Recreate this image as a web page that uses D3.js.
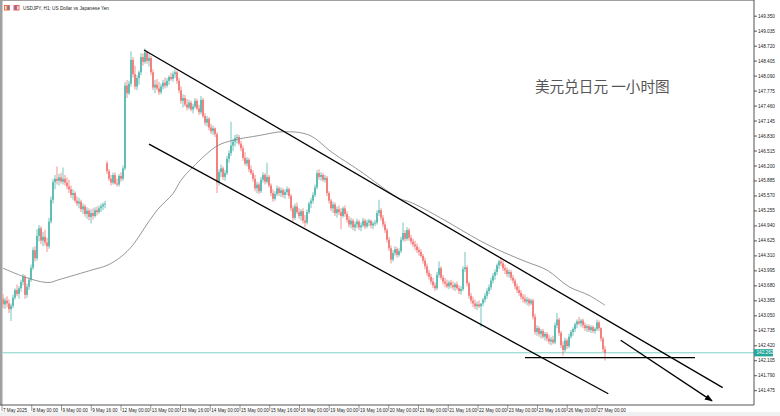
<!DOCTYPE html>
<html><head><meta charset="utf-8">
<script src="https://cdn.jsdelivr.net/npm/d3@7"></script>
<style>body{margin:0;background:#fff}svg{display:block}</style>
</head><body>
<svg id="c" width="780" height="416"></svg>
<script>
// USDJPY H1 candles [open, high, low, close]
const candles = [
[143.40,143.50,143.20,143.28],[143.28,143.42,143.18,143.36],[143.36,143.45,143.22,143.30],[143.30,143.38,143.10,143.18],
[143.18,143.30,142.93,143.25],[143.25,143.48,143.20,143.42],[143.42,143.62,143.38,143.58],[143.58,143.70,143.45,143.50],
[143.50,143.66,143.40,143.62],[143.62,143.80,143.55,143.75],[143.75,143.92,143.68,143.86],[143.86,143.90,143.40,143.48],
[143.48,143.72,143.42,143.65],[143.65,143.85,143.58,143.80],[143.80,144.12,143.75,144.05],[144.05,144.48,144.00,144.42],
[144.42,144.50,144.18,144.25],[144.25,144.86,144.20,144.72],[144.72,144.95,144.60,144.88],[144.88,144.92,144.55,144.62],
[144.62,144.80,144.50,144.70],[144.70,144.85,144.52,144.58],[144.58,144.68,144.38,144.50],[144.50,145.10,144.45,145.02],
[145.02,145.55,144.98,145.48],[145.48,145.92,145.40,145.85],[145.85,146.00,145.70,145.92],[145.92,146.18,145.80,145.88],
[145.88,146.02,145.78,145.95],[145.95,146.05,145.82,145.86],[145.86,146.16,145.80,145.92],[145.92,146.00,145.78,145.84],
[145.84,145.95,145.70,145.76],[145.76,145.90,145.62,145.70],[145.70,145.78,145.52,145.58],[145.58,145.70,145.48,145.62],
[145.62,145.66,145.42,145.46],[145.46,145.55,145.35,145.40],[145.40,145.52,145.30,145.44],[145.44,145.48,145.22,145.28],
[145.28,145.40,145.18,145.34],[145.34,145.38,145.12,145.18],[145.18,145.32,145.08,145.25],[145.25,145.30,145.05,145.12],
[145.12,145.28,144.98,145.20],[145.20,145.30,145.06,145.14],[145.14,145.32,145.10,145.26],[145.26,145.34,145.15,145.22],
[145.22,145.36,145.18,145.30],[145.30,145.40,145.22,145.34],[145.34,145.42,145.26,145.38],[145.38,145.46,145.30,145.40],
[146.25,146.30,146.02,146.08],[146.08,146.12,145.88,145.92],[145.92,146.00,145.78,145.84],[145.84,146.05,145.80,146.00],
[146.00,146.06,145.80,145.82],[145.82,145.92,145.76,145.80],[145.80,146.02,145.76,145.98],[145.98,146.06,145.86,145.92],
[145.92,146.20,145.88,146.14],[146.14,147.95,146.10,147.88],[147.88,148.00,147.62,147.72],[147.72,147.98,147.68,147.92],
[147.92,148.60,147.86,148.42],[148.42,148.48,148.05,148.12],[148.12,148.30,147.80,147.86],[147.86,148.10,147.78,148.04],
[148.04,148.20,147.90,148.16],[148.16,148.56,148.10,148.48],[148.48,148.56,148.30,148.38],[148.38,148.66,148.34,148.58],
[148.58,148.62,148.34,148.40],[148.40,148.55,148.28,148.46],[148.46,148.50,148.10,148.16],[148.16,148.22,147.78,147.84],
[147.84,148.00,147.72,147.90],[147.90,148.02,147.78,147.82],[147.82,147.96,147.68,147.74],[147.74,147.92,147.70,147.86],
[147.86,148.00,147.80,147.94],[147.94,148.05,147.82,147.88],[147.88,148.04,147.84,147.98],[147.98,148.10,147.90,148.06],
[148.06,148.15,147.98,148.02],[148.02,148.18,147.96,148.12],[148.12,148.22,148.04,148.16],[148.16,148.20,147.92,147.98],
[147.98,148.04,147.72,147.78],[147.78,147.86,147.50,147.56],[147.56,147.70,147.42,147.62],[147.62,147.68,147.44,147.48],
[147.48,147.60,147.36,147.42],[147.42,147.58,147.38,147.52],[147.52,147.56,147.34,147.38],[147.38,147.50,147.30,147.44],
[147.44,147.62,147.40,147.56],[147.56,147.60,147.36,147.40],[147.40,147.48,147.26,147.32],[147.32,147.66,147.28,147.58],
[147.58,147.62,147.20,147.24],[147.24,147.30,147.04,147.10],[147.10,147.24,147.02,147.18],[147.18,147.22,146.94,147.00],
[147.00,147.08,146.86,146.92],[146.92,147.04,146.84,146.98],[146.98,147.00,146.80,146.86],[146.86,146.90,145.62,145.84],
[145.84,146.12,145.78,146.06],[146.06,146.22,145.96,146.14],[146.14,146.18,145.90,145.96],[145.96,146.10,145.88,146.04],
[146.04,146.40,146.00,146.34],[146.34,146.52,146.26,146.46],[146.46,147.12,146.40,146.62],[146.62,146.76,146.50,146.70],
[146.70,146.84,146.60,146.78],[146.78,146.86,146.66,146.80],[146.80,146.84,146.62,146.66],[146.66,146.72,146.50,146.56],
[146.56,146.62,146.30,146.36],[146.36,146.48,146.20,146.24],[146.24,146.38,146.18,146.32],[146.32,146.36,146.06,146.12],
[146.12,146.20,146.00,146.04],[146.04,146.10,145.86,145.92],[145.92,146.00,145.66,145.72],[145.72,145.86,145.62,145.80],
[145.80,145.84,145.60,145.66],[145.66,145.96,145.62,145.90],[145.90,146.06,145.84,146.00],[146.00,146.04,145.80,145.86],
[145.86,146.26,145.82,145.96],[145.96,146.00,145.74,145.78],[145.78,145.82,145.56,145.62],[145.62,145.70,145.44,145.50],
[145.50,145.66,145.46,145.60],[145.60,145.78,145.56,145.72],[145.72,145.76,145.56,145.62],[145.62,145.74,145.54,145.68],
[145.68,145.72,145.52,145.58],[145.58,145.70,145.50,145.64],[145.64,145.76,145.58,145.70],[145.70,145.74,145.50,145.56],
[145.56,145.60,145.24,145.30],[145.30,145.36,145.02,145.10],[145.10,145.40,145.06,145.34],[145.34,145.42,145.18,145.22],
[145.22,145.30,145.08,145.14],[145.14,145.28,145.04,145.24],[145.24,145.30,144.98,145.04],[145.04,145.16,144.90,145.00],
[145.00,145.28,144.96,145.22],[145.22,145.44,145.18,145.40],[145.40,145.52,145.30,145.46],[145.46,145.64,145.40,145.58],
[145.58,145.80,145.54,145.74],[145.74,146.10,145.70,146.04],[146.04,146.12,145.90,145.96],[145.96,146.06,145.88,146.00],
[146.00,146.04,145.86,145.90],[145.90,146.00,145.84,145.94],[145.94,145.98,145.56,145.62],[145.62,145.66,145.40,145.46],
[145.46,145.50,145.24,145.30],[145.30,145.44,145.20,145.38],[145.38,145.42,145.14,145.20],[145.20,145.34,145.10,145.28],
[145.28,145.36,145.16,145.22],[145.22,145.30,144.86,145.14],[145.14,145.34,145.10,145.30],[145.30,145.36,145.12,145.18],
[145.18,145.24,145.00,145.06],[145.06,145.14,144.90,144.96],[144.96,145.10,144.88,145.04],[145.04,145.08,144.84,144.90],
[144.90,145.02,144.82,144.96],[144.96,145.08,144.88,145.02],[145.02,145.06,144.84,144.90],[144.90,145.00,144.82,144.94],
[144.94,145.10,144.90,145.04],[145.04,145.08,144.86,144.92],[144.92,145.06,144.88,145.00],[145.00,145.08,144.92,145.04],
[145.04,145.06,144.88,144.94],[144.94,145.02,144.86,144.98],[144.98,145.06,144.92,145.00],[145.00,145.26,144.96,145.20],
[145.20,145.48,145.14,145.26],[145.26,145.30,145.04,145.10],[145.10,145.16,144.90,144.96],[144.96,145.02,144.78,144.84],
[144.84,144.88,144.58,144.64],[144.64,144.70,144.40,144.46],[144.46,144.52,144.14,144.22],[144.22,144.42,144.18,144.36],
[144.36,144.50,144.30,144.44],[144.44,144.48,144.26,144.32],[144.32,144.46,144.28,144.40],[144.40,144.70,144.36,144.64],
[144.64,145.00,144.60,144.78],[144.78,144.84,144.60,144.66],[144.66,144.90,144.62,144.84],[144.84,144.88,144.62,144.68],
[144.68,144.74,144.54,144.60],[144.60,144.66,144.48,144.54],[144.54,144.62,144.42,144.50],[144.50,144.56,144.36,144.42],
[144.42,144.48,144.30,144.38],[144.38,144.44,144.26,144.30],[144.30,144.34,144.14,144.20],[144.20,144.26,144.02,144.08],
[144.08,144.14,143.88,143.94],[143.94,144.00,143.80,143.86],[143.86,143.92,143.70,143.76],[143.76,143.84,143.62,143.68],
[143.68,143.74,143.56,143.62],[143.62,143.96,143.58,143.90],[143.90,144.18,143.84,144.04],[144.04,144.08,143.80,143.84],
[143.84,143.90,143.70,143.76],[143.76,143.84,143.64,143.72],[143.72,143.80,143.62,143.66],[143.66,143.78,143.60,143.74],
[143.74,143.80,143.62,143.68],[143.68,143.76,143.58,143.64],[143.64,143.74,143.56,143.70],[143.70,143.76,143.58,143.62],
[143.62,143.68,143.50,143.56],[143.56,143.66,143.48,143.60],[143.60,144.08,143.56,144.02],[144.02,144.38,143.96,144.06],
[144.06,144.10,143.66,143.72],[143.72,143.76,143.40,143.46],[143.46,143.52,143.30,143.36],[143.36,143.44,143.22,143.30],
[143.30,143.38,143.18,143.24],[143.24,143.34,143.16,143.28],[143.28,143.36,143.20,143.24],[143.24,143.30,142.80,143.30],
[143.30,143.42,143.24,143.38],[143.38,143.52,143.32,143.46],[143.46,143.62,143.40,143.56],[143.56,143.70,143.50,143.64],
[143.64,143.84,143.58,143.78],[143.78,143.94,143.72,143.88],[143.88,144.02,143.80,143.96],[143.96,144.14,143.90,144.10],
[144.10,144.22,144.02,144.18],[144.18,144.27,144.08,144.14],[144.14,144.20,143.98,144.04],[144.04,144.12,143.92,144.00],
[144.00,144.06,143.86,143.92],[143.92,144.02,143.84,143.96],[143.96,144.00,143.78,143.84],[143.84,143.90,143.72,143.78],
[143.78,143.82,143.60,143.66],[143.66,143.72,143.52,143.58],[143.58,143.66,143.46,143.52],[143.52,143.58,143.38,143.44],
[143.44,143.50,143.32,143.40],[143.40,143.48,143.30,143.34],[143.34,143.44,143.26,143.38],[143.38,143.42,143.24,143.30],
[143.30,143.40,143.26,143.36],[143.36,143.40,142.96,143.02],[143.02,143.08,142.64,142.70],[142.70,142.84,142.62,142.78],
[142.78,142.82,142.60,142.66],[142.66,142.76,142.56,142.72],[142.72,142.76,142.56,142.60],[142.60,142.70,142.52,142.66],
[142.66,142.70,142.50,142.56],[142.56,142.64,142.44,142.50],[142.50,142.60,142.42,142.54],[142.54,142.62,142.44,142.48],
[142.48,142.90,142.44,142.84],[142.84,143.10,142.78,142.96],[142.96,143.00,142.62,142.68],[142.68,142.72,142.36,142.42],
[142.42,142.50,142.20,142.32],[142.32,142.58,142.28,142.52],[142.52,142.56,142.34,142.40],[142.40,142.66,142.36,142.60],
[142.60,142.74,142.56,142.70],[142.70,142.80,142.62,142.76],[142.76,142.90,142.70,142.86],[142.86,142.96,142.78,142.92],
[142.92,143.02,142.84,142.88],[142.88,142.98,142.80,142.94],[142.94,142.98,142.78,142.84],[142.84,142.90,142.72,142.78],
[142.78,142.86,142.70,142.82],[142.82,142.86,142.70,142.74],[142.74,142.84,142.68,142.80],[142.80,142.84,142.68,142.72],
[142.72,142.80,142.66,142.76],[142.76,142.96,142.72,142.90],[142.90,142.94,142.72,142.78],[142.78,142.80,142.50,142.56],
[142.56,142.60,142.28,142.34],[142.34,142.40,142.10,142.262]
];
// moving average: bar index and value
const maIndex = [0,14,23,28,45,52,59,65,70,77,85,89,95,107,115,128,140,153,165,178,198,203,210,222,238,250,262,272,283,293,301];
const maValue = [144.04,143.81,143.74,143.80,144.01,144.10,144.28,144.53,144.84,145.26,145.61,145.89,146.17,146.61,146.73,146.83,146.91,146.84,146.46,146.10,145.51,145.44,145.30,145.02,144.63,144.38,144.17,144.00,143.65,143.47,143.26];
const yTicks = [141.475,141.790,142.105,142.420,142.735,143.050,143.365,143.680,143.995,144.310,144.625,144.940,145.255,145.570,145.885,146.200,146.515,146.830,147.145,147.460,147.775,148.090,148.405,148.720,149.035,149.350];
const xTickLabels = ["7 May 2025","8 May 00:00","9 May 00:00","9 May 16:00","12 May 00:00","13 May 00:00","13 May 16:00","14 May 00:00","15 May 00:00","15 May 16:00","16 May 00:00","19 May 00:00","19 May 16:00","20 May 00:00","21 May 00:00","21 May 16:00","22 May 00:00","23 May 00:00","23 May 16:00","26 May 00:00","27 May 00:00"];
const barsPerLabel = 14.875;
const lastPrice = 142.262;
// drawn objects: [bar index, price]
const upperChannel = [[70.5,148.63],[359.85,141.53]];
const lowerChannel = [[73,146.65],[302.65,141.40]];
const supportLine = [[261,142.16],[346,142.16]];
const arrowLine = [[308.85,142.527],[354.5,141.25]];
const title = "USDJPY, H1:  US Dollar vs Japanese Yen";
const note = "美元兑日元 一小时图";

const svg = d3.select("#c");
const W = 780, H = 416;
const plot = {l:2.5, r:754, t:1, b:405};
const x = d3.scaleLinear().domain([0, candles.length-1]).range([3, 605]);
const y = d3.scaleLinear().domain([141.475, 149.350]).range([390.2, 15.7]);
const bull = "#26a69a", bear = "#ef5350";
const font = "'Liberation Sans', Arial, sans-serif";

// frame
svg.append("rect").attr("x",0).attr("y",0).attr("width",W).attr("height",H).attr("fill","#fff");
svg.append("rect").attr("x",0).attr("y",412).attr("width",W).attr("height",4).attr("fill","#f0f0f0");
svg.append("rect").attr("x",0).attr("y",0).attr("width",2.5).attr("height",plot.b).attr("fill","#a0a0a0");
svg.append("line").attr("x1",0).attr("x2",plot.r).attr("y1",0.5).attr("y2",0.5).attr("stroke","#a0a0a0").attr("stroke-width",1);

const defs = svg.append("defs");
defs.append("clipPath").attr("id","clip").append("rect")
  .attr("x",plot.l).attr("y",plot.t).attr("width",plot.r-plot.l).attr("height",plot.b-plot.t);
defs.append("marker").attr("id","arr").attr("viewBox","0 0 10 10").attr("refX",9).attr("refY",5)
  .attr("markerWidth",6).attr("markerHeight",6).attr("orient","auto")
  .append("path").attr("d","M0,1 L10,5 L0,9 Z").attr("fill","#000");

const g = svg.append("g").attr("clip-path","url(#clip)");

// last price line
g.append("line").attr("x1",plot.l).attr("x2",plot.r).attr("y1",y(lastPrice)).attr("y2",y(lastPrice))
  .attr("stroke","#7fd3ca").attr("stroke-width",1);

// candles
const cg = g.append("g");
candles.forEach((d,i)=>{
  const [o,h,l,c] = d;
  const col = c>=o ? bull : bear;
  const cx = x(i);
  cg.append("line").attr("x1",cx).attr("x2",cx).attr("y1",y(h)).attr("y2",y(l))
    .attr("stroke",col).attr("stroke-opacity",0.4).attr("stroke-width",1.6);
  const top = y(Math.max(o,c)), bot = y(Math.min(o,c));
  cg.append("rect").attr("x",cx-0.6).attr("width",1.2).attr("y",top).attr("height",Math.max(0.8,bot-top))
    .attr("fill",col);
});

// moving average
const maPts = maIndex.map((v,i)=>[v, maValue[i]]);
g.append("path").datum(maPts)
  .attr("d", d3.line().x(d=>x(d[0])).y(d=>y(d[1])).curve(d3.curveCatmullRom))
  .attr("fill","none").attr("stroke","#8a8a8a").attr("stroke-width",0.9);

// trend lines
const seg = (pts, extra)=>{
  const ln = g.append("line").attr("x1",x(pts[0][0])).attr("y1",y(pts[0][1]))
    .attr("x2",x(pts[1][0])).attr("y2",y(pts[1][1])).attr("stroke","#000").attr("stroke-width",1.3);
  if(extra) ln.attr("marker-end","url(#arr)");
};
seg(upperChannel);
seg(lowerChannel);
seg(supportLine);
seg(arrowLine, true);

// note
svg.append("text").attr("x",535).attr("y",92).attr("font-family","'Noto Sans CJK SC', sans-serif")
  .attr("font-size",14.6).attr("fill","#555").text(note);

// axes lines
svg.append("line").attr("x1",plot.r).attr("x2",plot.r).attr("y1",0).attr("y2",plot.b)
  .attr("stroke","#555").attr("stroke-width",1);
svg.append("line").attr("x1",0).attr("x2",plot.r).attr("y1",plot.b).attr("y2",plot.b)
  .attr("stroke","#555").attr("stroke-width",1);

// y axis
const yAxis = d3.axisRight(y).tickValues(yTicks).tickFormat(d3.format(".3f")).tickSize(3).tickPadding(1);
const ya = svg.append("g").attr("transform",`translate(${plot.r},0)`).call(yAxis);
ya.select(".domain").remove();
ya.selectAll("text").attr("font-family",font).attr("font-size",4.7).attr("fill","#222");
ya.selectAll("line").attr("stroke","#555");

// last price label
svg.append("rect").attr("x",plot.r).attr("y",y(lastPrice)-3.6).attr("width",19).attr("height",7.2).attr("fill","#26a69a");
svg.append("text").attr("x",plot.r+2.5).attr("y",y(lastPrice)).attr("dy","0.35em").attr("font-family",font)
  .attr("font-size",4.7).attr("fill","#fff").text(d3.format(".3f")(lastPrice));

// x axis labels
const xa = svg.append("g");
xTickLabels.forEach((t,j)=>{
  const xi = x(j*barsPerLabel - 0.5);
  xa.append("line").attr("x1",xi).attr("x2",xi).attr("y1",plot.b).attr("y2",plot.b+6).attr("stroke","#555").attr("stroke-width",0.6);
  xa.append("text").attr("x",xi+1).attr("y",plot.b+6.5).attr("font-family",font).attr("font-size",4.6)
    .attr("fill","#222").text(t);
});

// title with icons
svg.append("rect").attr("x",4).attr("y",5).attr("width",6).attr("height",5.5).attr("fill","#e8734a");
svg.append("rect").attr("x",5.2).attr("y",6).attr("width",1.2).attr("height",3.5).attr("fill","#fff");
svg.append("rect").attr("x",7.6).attr("y",6).attr("width",1.2).attr("height",3.5).attr("fill","#4a7fd0");
svg.append("rect").attr("x",13.5).attr("y",5).attr("width",6).attr("height",5.5).attr("fill","#e86060");
svg.append("rect").attr("x",15).attr("y",6.2).attr("width",1.3).attr("height",3.2).attr("fill","#4a7fd0");
svg.append("rect").attr("x",17.3).attr("y",6.2).attr("width",1.3).attr("height",3.2).attr("fill","#fff");
svg.append("text").attr("x",23).attr("y",9.6).attr("font-family",font).attr("font-size",4.7).attr("fill","#222").text(title);
</script>
</body></html>
